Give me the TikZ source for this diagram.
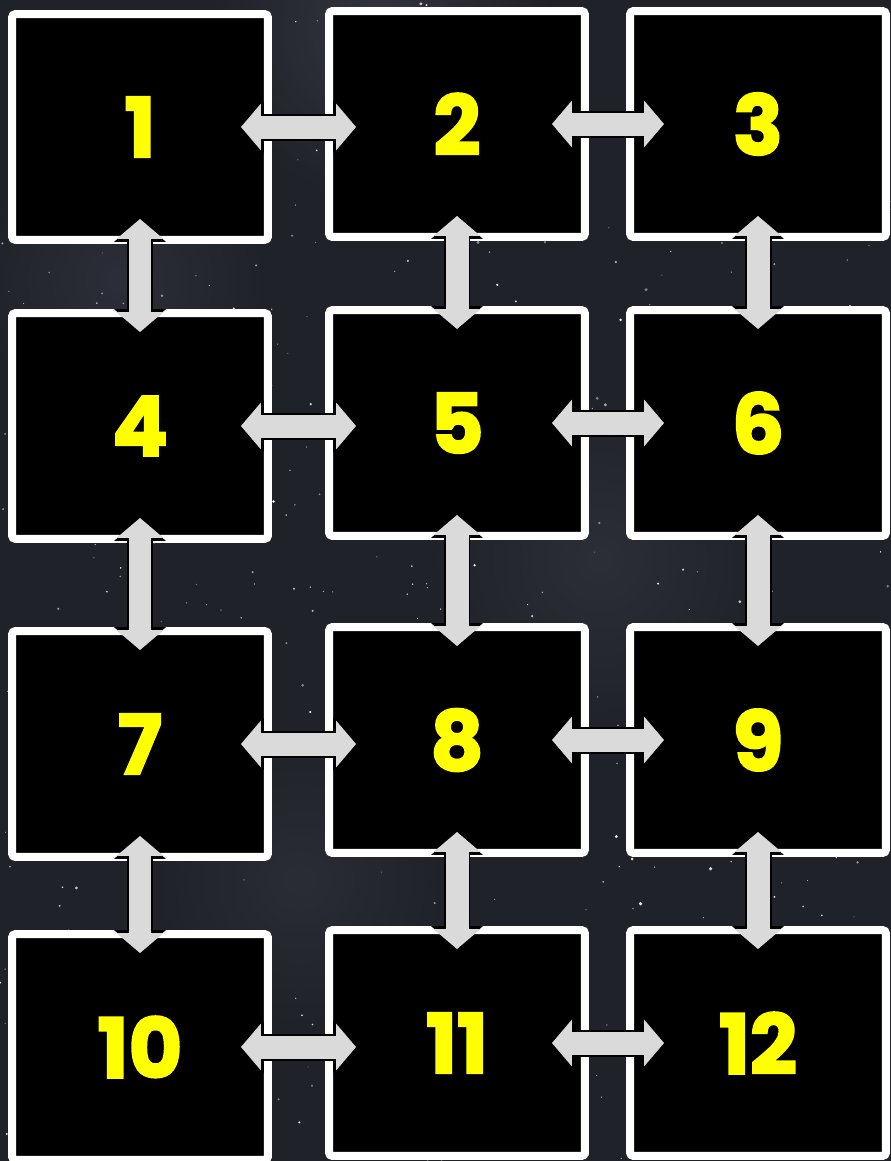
\documentclass[tikz,border=0pt]{standalone}
\usepackage{fontspec}
\usepackage{tikz}
\usetikzlibrary{arrows.meta,calc,positioning}
\newfontfamily\numfont[FakeBold=2.5]{Poppins}
\definecolor{sky}{RGB}{32,34,41}
\definecolor{skylight}{RGB}{62,66,78}
\definecolor{numyellow}{RGB}{255,255,0}
\definecolor{linkgray}{RGB}{218,218,218}

\tikzset{
    room/.style={draw=white, line width=0.16cm, fill=black, rounded corners=2pt,
        minimum width=5.12cm, minimum height=4.52cm, inner sep=0pt,
        text=numyellow, font=\numfont\bfseries\fontsize{47}{47}\selectfont},
    link/.style={line width=0.46cm, draw=linkgray,
        {Triangle[width=0.94cm,length=0.40cm,line width=0pt]}-{Triangle[width=0.94cm,length=0.40cm,line width=0pt]},
        preaction={draw=black, line width=0.54cm,
            arrows={Triangle[width=1.04cm,length=0.46cm,line width=0pt]}-{Triangle[width=1.04cm,length=0.46cm,line width=0pt]}}},
    hlink/.style={link, shorten <=-0.62cm, shorten >=-0.62cm},
    hlinkr/.style={link, shorten <=-0.74cm, shorten >=-0.76cm},
    vlink/.style={link, shorten <=-0.50cm, shorten >=-0.46cm}
}

\begin{document}
\begin{tikzpicture}[x=0.02cm, y=-0.02cm]
    % Sky background
    \useasboundingbox (0,0) rectangle (891,1161);
    \fill[sky] (0,0) rectangle (891,1161);

    % Faint nebula
    \shade[inner color=skylight, outer color=sky, opacity=0.6] (380,30) circle (3.5cm);
    \shade[inner color=skylight, outer color=sky, opacity=0.4] (120,280) circle (3cm);
    \shade[inner color=skylight, outer color=sky, opacity=0.4] (600,560) circle (3.5cm);
    \shade[inner color=skylight, outer color=sky, opacity=0.35] (300,880) circle (3cm);

    % Stars
    \pgfmathsetseed{4242}
    \foreach \s in {1,...,650}{
        \pgfmathsetmacro{\sx}{891*rnd}
        \pgfmathsetmacro{\sy}{1161*rnd}
        \pgfmathsetmacro{\sr}{0.3+0.8*rnd*rnd}
        \pgfmathsetmacro{\so}{0.4+0.6*rnd}
        \fill[white, opacity=\so] (\sx,\sy) circle (\sr pt);
    }

    % Rooms
    \node[room] (b1)  at (140,127)  {1};
    \node[room] (b2)  at (457,124)  {2};
    \node[room] (b3)  at (758,124)  {3};
    \node[room] (b4)  at (140,426)  {4};
    \node[room] (b5)  at (457,423)  {5};
    \node[room] (b6)  at (758,423)  {6};
    \node[room] (b7)  at (140,744)  {7};
    \node[room] (b8)  at (457,740)  {8};
    \node[room] (b9)  at (758,740)  {9};
    \node[room] (b10) at (140,1047) {10};
    \node[room] (b11) at (457,1043) {11};
    \node[room] (b12) at (758,1043) {12};

    % Horizontal links
    \draw[hlink]  (b1.east)  -- (b1.east -| b2.west);
    \draw[hlinkr] (b2.east)  -- (b2.east -| b3.west);
    \draw[hlink]  (b4.east)  -- (b4.east -| b5.west);
    \draw[hlinkr] (b5.east)  -- (b5.east -| b6.west);
    \draw[hlink]  (b7.east)  -- (b7.east -| b8.west);
    \draw[hlinkr] (b8.east)  -- (b8.east -| b9.west);
    \draw[hlink]  (b10.east) -- (b10.east -| b11.west);
    \draw[hlinkr] (b11.east) -- (b11.east -| b12.west);

    % Vertical links
    \draw[vlink] (b1.south) -- (b1.south |- b4.north);
    \draw[vlink] (b2.south) -- (b2.south |- b5.north);
    \draw[vlink] (b3.south) -- (b3.south |- b6.north);
    \draw[vlink] (b4.south) -- (b4.south |- b7.north);
    \draw[vlink] (b5.south) -- (b5.south |- b8.north);
    \draw[vlink] (b6.south) -- (b6.south |- b9.north);
    \draw[vlink] (b7.south) -- (b7.south |- b10.north);
    \draw[vlink] (b8.south) -- (b8.south |- b11.north);
    \draw[vlink] (b9.south) -- (b9.south |- b12.north);
\end{tikzpicture}
\end{document}
